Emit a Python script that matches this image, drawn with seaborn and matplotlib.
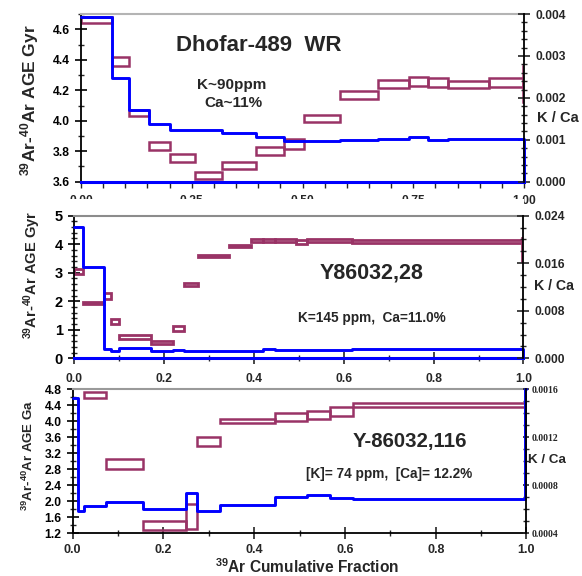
import matplotlib.pyplot as plt
import matplotlib.ticker as mticker
from matplotlib.patches import Rectangle
import numpy as np
import seaborn as sns

sns.set_theme(style="ticks")
plt.rcParams["font.family"] = ["Liberation Sans", "DejaVu Sans"]
plt.rcParams["font.weight"] = "bold"
plt.rcParams["mathtext.fontset"] = "custom"
plt.rcParams["mathtext.rm"] = "Liberation Sans:bold"
plt.rcParams["mathtext.default"] = "rm"

BLUE = "#0000ff"
PLUM = "#993366"

# ---- Dhofar-489 WR (step edges in 39Ar cumulative fraction) ----
dho_edges = [0, 0.069, 0.109, 0.154, 0.201, 0.257, 0.318, 0.396, 0.458, 0.503,
             0.585, 0.670, 0.740, 0.784, 0.829, 0.921, 0.997, 1.0]
dho_age = [4.66, 4.39, 4.05, 3.835, 3.755, 3.64, 3.705, 3.80, 3.845, 4.013,
           4.17, 4.24, 4.26, 4.25, 4.24, 4.25, 4.24]
dho_err = [0.02, 0.03, 0.02, 0.025, 0.025, 0.023, 0.022, 0.027, 0.033, 0.024,
           0.027, 0.025, 0.03, 0.03, 0.023, 0.03, 0.12]
dho_kca = [0.00394, 0.00247, 0.00171, 0.00138, 0.00123, 0.00123, 0.00116, 0.00107,
           0.00098, 0.00098, 0.00099, 0.00103, 0.00106, 0.00099, 0.00101, 0.00101, 0.00101]

# ---- Y86032,28 ----
y28_edges = [0, 0.019, 0.066, 0.083, 0.100, 0.172, 0.221, 0.245, 0.276, 0.344,
             0.393, 0.420, 0.447, 0.495, 0.519, 0.618, 0.996, 1.0]
y28_age = [3.04, 1.94, 2.18, 1.29, 0.76, 0.55, 1.05, 2.60, 3.58, 3.94,
           4.12, 4.13, 4.12, 4.09, 4.12, 4.10, 3.80]
y28_err = [0.09, 0.03, 0.10, 0.09, 0.07, 0.05, 0.08, 0.05, 0.03, 0.04,
           0.06, 0.05, 0.05, 0.07, 0.05, 0.05, 0.40]
y28_kca = [0.0221, 0.0154, 0.00157, 0.00128, 0.00179, 0.00123, 0.0014, 0.00128,
           0.00128, 0.00123, 0.00123, 0.00157, 0.0014, 0.0014, 0.0014, 0.00157, 0.00157]

# ---- Y-86032,116 ----
y116_edges = [0, 0.012, 0.026, 0.073, 0.156, 0.25, 0.275, 0.325, 0.446, 0.516,
              0.568, 0.617, 0.997, 1.0]
y116_age = [np.nan, np.nan, 4.66, 2.925, 1.40, 1.62, 3.50, 4.01, 4.11, 4.16, 4.25, 4.415, 4.10]
y116_err = [np.nan, np.nan, 0.08, 0.125, 0.115, 0.31, 0.11, 0.06, 0.09, 0.11, 0.12, 0.05, 0.36]
y116_kca = [0.00153, 0.000586, 0.000628, 0.000663, 0.0006, 0.000738, 0.000586,
            0.000636, 0.000705, 0.000719, 0.000697, 0.000683, 0.00160]


def draw_boxes(ax, edges, age, err, lw=1.8):
    edges = np.asarray(edges, float)
    age = np.asarray(age, float)
    err = np.asarray(err, float)
    ok = ~np.isnan(age)
    ax.bar(edges[:-1][ok], 2 * err[ok], width=np.diff(edges)[ok], bottom=(age - err)[ok],
           align="edge", fill=False, edgecolor=PLUM, linewidth=lw)


def draw_kca(ax, edges, kca, end=None):
    xs = list(edges)
    ys = list(kca) + [kca[-1]]
    if end is not None:
        xs.append(edges[-1])
        ys.append(end)
    sns.lineplot(x=xs, y=ys, ax=ax, color=BLUE, lw=2.1, drawstyle="steps-post",
                 estimator=None, sort=False, legend=False, clip_on=False)


def style(ax, ax2, bottom_color, top_color):
    for s in ["left", "right", "top", "bottom"]:
        ax2.spines[s].set_visible(False)
    ax2.spines["right"].set_visible(True)
    ax2.spines["right"].set_color("black")
    ax2.spines["right"].set_linewidth(1.3)
    ax.spines["right"].set_visible(False)
    ax.spines["left"].set_color("black")
    ax.spines["left"].set_linewidth(1.3)
    ax.spines["top"].set_visible(True)
    ax.spines["top"].set_color(top_color)
    ax.spines["top"].set_linewidth(1.5)
    ax.spines["bottom"].set_color(bottom_color)
    ax.spines["bottom"].set_linewidth(2.2 if bottom_color == BLUE else 1.3)
    ax.set_xlim(0, 1)
    ax.set_xlabel("")
    ax.set_ylabel("")
    ax2.set_ylabel("")
    ax.yaxis.set_ticks_position("left")
    ax2.yaxis.set_ticks_position("right")
    ax.xaxis.set_ticks_position("bottom")
    ax.tick_params(axis="y", which="major", direction="inout", length=8, width=1.2,
                   labelsize=8.7, pad=4, colors="black")
    ax.tick_params(axis="y", which="minor", direction="inout", length=5, width=1.0)
    ax2.tick_params(axis="y", which="major", direction="inout", length=8, width=1.2,
                    labelsize=8.7, pad=4)
    ax2.tick_params(axis="y", which="minor", direction="inout", length=5, width=1.0)


fig = plt.figure(figsize=(5.82, 5.76), dpi=100)
fig.patch.set_facecolor("white")

# ---------------- panel 1 ----------------
ax = fig.add_axes([0.1392, 0.6845, 0.7612, 0.2911])
ax2 = ax.twinx()
draw_boxes(ax, dho_edges, dho_age, dho_err)
draw_kca(ax2, dho_edges, dho_kca, end=0.0)
ax.set_ylim(3.6, 4.7)
ax2.set_ylim(0, 0.004)
style(ax, ax2, BLUE, "#b4b4b4")
ax.yaxis.set_major_locator(mticker.MultipleLocator(0.2))
ax.yaxis.set_minor_locator(mticker.MultipleLocator(0.1))
ax.yaxis.set_major_formatter(mticker.FormatStrFormatter("%.1f"))
ax2.yaxis.set_major_locator(mticker.MultipleLocator(0.001))
ax2.yaxis.set_minor_locator(mticker.MultipleLocator(0.0002))
ax2.yaxis.set_major_formatter(mticker.FormatStrFormatter("%.3f"))
ax.xaxis.set_major_locator(mticker.MultipleLocator(0.25))
ax.xaxis.set_minor_locator(mticker.MultipleLocator(0.05))
ax.xaxis.set_major_formatter(mticker.FormatStrFormatter("%.2f"))
ax.tick_params(axis="x", which="both", direction="out", length=4, width=1.0,
               labelsize=8.7, pad=5.5)
ax.text(0.402, 0.815, "Dhofar-489  WR", transform=ax.transAxes, fontsize=16,
        fontweight="bold", ha="center", va="center")
ax.text(0.341, 0.577, "K~90ppm", transform=ax.transAxes, fontsize=11,
        fontweight="bold", ha="center", va="center")
ax.text(0.345, 0.469, "Ca~11%", transform=ax.transAxes, fontsize=11,
        fontweight="bold", ha="center", va="center")

# ---------------- panel 2 ----------------
bx = fig.add_axes([0.1271, 0.3780, 0.7723, 0.2476])
bx2 = bx.twinx()
draw_boxes(bx, y28_edges, y28_age, y28_err, lw=2.0)
draw_kca(bx2, y28_edges, y28_kca, end=0.0)
bx.set_ylim(0, 5)
bx2.set_ylim(0, 0.024)
style(bx, bx2, BLUE, "#8c8c8c")
bx.yaxis.set_major_locator(mticker.MultipleLocator(1))
bx.yaxis.set_minor_locator(mticker.MultipleLocator(0.2))
bx.yaxis.set_major_formatter(mticker.FormatStrFormatter("%d"))
bx.tick_params(axis="y", which="major", labelsize=10.5)
bx2.yaxis.set_major_locator(mticker.MultipleLocator(0.008))
bx2.yaxis.set_minor_locator(mticker.MultipleLocator(0.002))
bx2.yaxis.set_major_formatter(mticker.FormatStrFormatter("%.3f"))
bx.xaxis.set_major_locator(mticker.MultipleLocator(0.2))
bx.xaxis.set_minor_locator(mticker.MultipleLocator(0.1))
bx.xaxis.set_major_formatter(mticker.FormatStrFormatter("%.1f"))
bx.tick_params(axis="x", which="major", direction="inout", length=8, width=1.2,
               labelsize=8.7, pad=6.8)
bx.tick_params(axis="x", which="minor", direction="inout", length=5, width=1.0)
bx.text(0.663, 0.60, "Y86032,28", transform=bx.transAxes, fontsize=15.5,
        fontweight="bold", ha="center", va="center")
bx.text(0.663, 0.285, "K=145 ppm,  Ca=11.0%", transform=bx.transAxes, fontsize=9.8,
        fontweight="bold", ha="center", va="center")

# ---------------- panel 3 ----------------
cx = fig.add_axes([0.1249, 0.0741, 0.7797, 0.2500])
cx2 = cx.twinx()
draw_boxes(cx, y116_edges, y116_age, y116_err)
draw_kca(cx2, y116_edges, y116_kca)
cx.set_ylim(1.2, 4.8)
cx2.set_ylim(0.0004, 0.0016)
style(cx, cx2, "black", "#9a9a9a")
cx.yaxis.set_major_locator(mticker.MultipleLocator(0.4))
cx.yaxis.set_minor_locator(mticker.MultipleLocator(0.2))
cx.yaxis.set_major_formatter(mticker.FormatStrFormatter("%.1f"))
cx2.yaxis.set_major_locator(mticker.MultipleLocator(0.0004))
cx2.yaxis.set_minor_locator(mticker.MultipleLocator(0.0001))
cx2.yaxis.set_major_formatter(mticker.FormatStrFormatter("%.4f"))
cx2.tick_params(axis="y", which="major", length=5, pad=1.5, labelsize=7)
cx2.tick_params(axis="y", which="minor", length=4)
for lab in cx2.get_yticklabels():
    lab.set_family("Liberation Serif")
    lab.set_fontweight("bold")
cx.xaxis.set_major_locator(mticker.MultipleLocator(0.2))
cx.xaxis.set_minor_locator(mticker.MultipleLocator(0.1))
cx.xaxis.set_major_formatter(mticker.FormatStrFormatter("%.1f"))
cx.tick_params(axis="x", which="major", direction="inout", length=8, width=1.2,
               labelsize=9, pad=3.5)
cx.tick_params(axis="x", which="minor", direction="inout", length=5, width=1.0)
cx.text(0.743, 0.641, "Y-86032,116", transform=cx.transAxes, fontsize=14.7,
        fontweight="bold", ha="center", va="center")
cx.text(0.697, 0.415, "[K]= 74 ppm,  [Ca]= 12.2%", transform=cx.transAxes, fontsize=9.8,
        fontweight="bold", ha="center", va="center")

# axis titles placed in figure pixels
W, H = 582.0, 576.0
ylab = r"$^{39}$Ar-$^{40}$Ar AGE Gyr"
fig.text(30 / W, 1 - 100 / H, ylab, rotation=90, fontsize=12.5, ha="center", va="center")
fig.text(32 / W, 1 - 274.5 / H, ylab, rotation=90, fontsize=10.5, ha="center", va="center")
fig.text(28 / W, 1 - 455 / H, r"$^{39}$Ar-$^{40}$Ar AGE Ga", rotation=90, fontsize=9.5,
         ha="center", va="center")
fig.text(558 / W, 1 - 118 / H, "K / Ca", fontsize=10.5, ha="center", va="center")
fig.text(554 / W, 1 - 285.7 / H, "K / Ca", fontsize=10.2, ha="center", va="center")
fig.text(547 / W, 1 - 460 / H, "K / Ca", fontsize=9.6, ha="center", va="center")
fig.text(307 / W, 1 - 566.5 / H, r"$^{39}$Ar Cumulative Fraction", fontsize=11.2,
         ha="center", va="center")

# the lower panel hides most of the top panel's tick labels
fig.add_artist(Rectangle((0.05, 1 - 209 / H), 0.85, 10.5 / H, transform=fig.transFigure,
                         facecolor="white", edgecolor="none", zorder=10))

fig.savefig("out.png", dpi=100)
